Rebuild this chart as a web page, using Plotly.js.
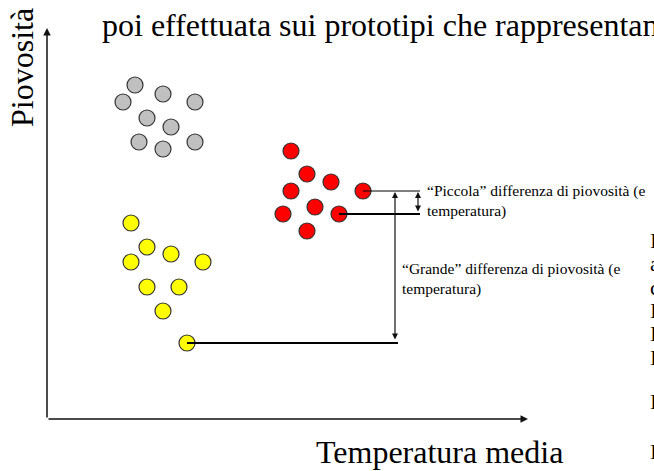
<!DOCTYPE html>
<html>
<head>
<meta charset="utf-8">
<script src="https://cdn.plot.ly/plotly-3.0.1.min.js"></script>
<style>html,body{margin:0;padding:0;background:#fff;overflow:hidden}#chart{width:654px;height:471px}</style>
</head>
<body>
<div id="chart"></div>
<script>
// Prototype groups (x = temperatura media, y = piovosità), arbitrary units
const grayX = [88, 76, 116, 148, 100, 124, 92, 116, 148];
const grayY = [334, 317, 325, 317, 301, 292, 277, 270, 277];
const redX = [244, 260, 284, 244, 316, 268, 236, 292, 260];
const redY = [268, 245, 237, 228, 228, 212, 205, 205, 188];
const yellowX = [84, 100, 124, 84, 156, 100, 132, 116, 140];
const yellowY = [196, 172, 165, 157, 157, 132, 132, 108, 76];

// Comparison brackets
const smallBracketX = 373;
const smallArrowX = 371;
const bigBracketX = 351;
const bigArrowX = 348;
const axisXEnd = 481;
const axisYEnd = 391;

const titleText = "poi effettuata sui prototipi che rappresentan";
const xTitle = "Temperatura media";
const yTitle = "Piovosità";
const smallLabel = "“Piccola” differenza di piovosità (e<br>temperatura)";
const bigLabel = "“Grande” differenza di piovosità (e<br>temperatura)";
const edgeGlyphs = ["I", "a", "c", "I", "I", "I", "I", "I"];
const edgeGlyphY = [240, 263, 287, 310, 333, 357, 401, 451];

const W = 654, H = 471;
const px = v => v / W;
const py = v => 1 - v / H;
const SERIF = "Liberation Serif, Times New Roman, serif";

const mk = (fill) => ({size: 16, color: fill, line: {color: '#333', width: 1.2}});

const rTop = [redX[4], redY[4]];
const rLow = [redX[7], redY[7]];
const yFar = [yellowX[8], yellowY[8]];

const traces = [
  {x: grayX, y: grayY, mode: 'markers', type: 'scatter', marker: mk('#c0c0c0'), hoverinfo: 'skip'},
  {x: redX, y: redY, mode: 'markers', type: 'scatter', marker: mk('#ff0000'), hoverinfo: 'skip'},
  {x: yellowX, y: yellowY, mode: 'markers', type: 'scatter', marker: mk('#ffff00'), hoverinfo: 'skip'},
  {x: [rTop[0], smallBracketX], y: [rTop[1], rTop[1]], mode: 'lines', type: 'scatter', line: {color: '#000', width: 1}, hoverinfo: 'skip'},
  {x: [rLow[0], smallBracketX], y: [rLow[1], rLow[1]], mode: 'lines', type: 'scatter', line: {color: '#000', width: 2}, hoverinfo: 'skip'},
  {x: [yFar[0], bigBracketX], y: [yFar[1], yFar[1]], mode: 'lines', type: 'scatter', line: {color: '#000', width: 2}, hoverinfo: 'skip'}
];

const arrow = (x0, y0, x1, y1, both, w) => ({
  xref: 'x', yref: 'y', axref: 'x', ayref: 'y',
  x: x1, y: y1, ax: x0, ay: y0, text: '', showarrow: true,
  arrowhead: 2, arrowsize: 1, arrowwidth: w, arrowcolor: '#111',
  arrowside: both ? 'end+start' : 'end', startarrowhead: 2, startarrowsize: 1,
  standoff: 0, startstandoff: 0
});

const annotations = [
  arrow(0, 0, axisXEnd, 0, false, 1.5),
  arrow(0, 0, 0, axisYEnd, false, 1.5),
  arrow(bigArrowX, yFar[1] + 2, bigArrowX, rTop[1] - 1, true, 1.2),
  arrow(smallArrowX, rLow[1] + 1, smallArrowX, rTop[1] - 1, true, 1.2),
  {xref: 'paper', yref: 'paper', x: px(100), y: py(25), xanchor: 'left', yanchor: 'middle',
   text: titleText, showarrow: false, font: {family: SERIF, size: 32, color: '#000'}},
  {xref: 'paper', yref: 'paper', x: px(439), y: py(452), xanchor: 'center', yanchor: 'middle',
   text: xTitle, showarrow: false, font: {family: SERIF, size: 32, color: '#000'}},
  {xref: 'paper', yref: 'paper', x: px(22), y: py(68), xanchor: 'center', yanchor: 'middle', textangle: -90,
   text: yTitle, showarrow: false, font: {family: SERIF, size: 32, color: '#000'}},
  {xref: 'paper', yref: 'paper', x: px(425), y: py(201), xanchor: 'left', yanchor: 'middle', align: 'left',
   text: smallLabel, showarrow: false, font: {family: SERIF, size: 15.5, color: '#000'}},
  {xref: 'paper', yref: 'paper', x: px(400), y: py(279), xanchor: 'left', yanchor: 'middle', align: 'left',
   text: bigLabel, showarrow: false, font: {family: SERIF, size: 15.5, color: '#000'}}
];
edgeGlyphs.forEach((g, i) => annotations.push({
  xref: 'paper', yref: 'paper', x: px(648), y: py(edgeGlyphY[i]), xanchor: 'left', yanchor: 'middle',
  text: g, showarrow: false, font: {family: SERIF, size: 22, color: '#000'}
}));

const layout = {
  width: W, height: H,
  margin: {l: 0, r: 0, t: 0, b: 0},
  paper_bgcolor: '#fff', plot_bgcolor: '#fff',
  showlegend: false,
  xaxis: {range: [-47, W - 47], visible: false, fixedrange: true},
  yaxis: {range: [419 - H, 419], visible: false, fixedrange: true},
  annotations: annotations
};

Plotly.newPlot('chart', traces, layout, {displayModeBar: false, staticPlot: true});
</script>
</body>
</html>
